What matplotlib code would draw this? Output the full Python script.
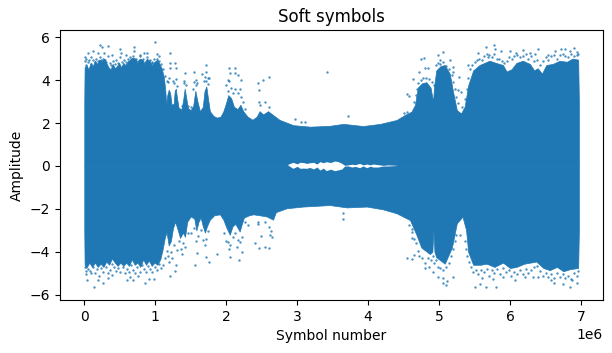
#!/bin/python3

import matplotlib
matplotlib.use('Agg')
import matplotlib.pyplot as plt
import numpy as np

# outline of the solid mass of symbols (x in millions)
upper_x = [0.0, 0.005, 0.03, 0.06, 0.09, 0.12, 0.15, 0.18, 0.21, 0.25, 0.28, 0.31, 0.34, 0.37, 0.40, 0.43, 0.46, 0.49,
           0.52, 0.55, 0.58, 0.61, 0.65, 0.68, 0.72, 0.75, 0.78, 0.82, 0.85, 0.88, 0.92, 0.95, 0.99, 1.03, 1.06, 1.09,
           1.12, 1.14, 1.155, 1.17, 1.19, 1.21, 1.23, 1.26, 1.275, 1.29, 1.305, 1.33, 1.37, 1.395, 1.415, 1.435, 1.46,
           1.5, 1.535, 1.565, 1.595, 1.63, 1.67, 1.695, 1.72, 1.745, 1.77, 1.82, 1.87, 1.92, 1.96, 1.99, 2.03, 2.07,
           2.11, 2.16, 2.2, 2.24, 2.3, 2.37, 2.43, 2.47, 2.52, 2.59, 2.65, 2.75, 2.944, 3.18, 3.46, 3.65, 3.93, 4.17,
           4.40, 4.52, 4.61, 4.66, 4.70, 4.76, 4.82, 4.88, 4.915, 4.93, 4.96, 5.02, 5.08, 5.15, 5.2, 5.25, 5.31, 5.36,
           5.41, 5.48, 5.57, 5.64, 5.71, 5.8, 5.9, 5.95, 6.02, 6.09, 6.18, 6.28, 6.34, 6.39, 6.45, 6.51, 6.6, 6.70,
           6.8, 6.88, 6.96, 6.97]
upper_y = [3.0, 4.6, 4.7, 4.5, 4.8, 4.65, 4.9, 4.75, 4.95, 4.9, 5.0, 4.8, 4.6, 4.5, 4.75, 4.55, 4.65, 4.8,
           4.6, 4.8, 4.7, 4.85, 4.95, 5.05, 5.0, 4.8, 5.0, 4.95, 4.75, 5.0, 4.9, 4.7, 4.85, 4.95, 4.75, 4.55,
           4.15, 3.6, 2.85, 3.3, 3.55, 3.4, 2.85, 2.9, 3.5, 3.6, 3.2, 2.7, 2.65, 3.1, 3.6, 3.2, 2.7,
           2.6, 2.8, 3.5, 3.0, 2.55, 2.75, 3.5, 3.7, 3.1, 2.55, 2.33, 2.25, 2.3, 2.55, 2.85, 3.3, 3.15,
           2.75, 2.65, 2.85, 2.55, 2.3, 2.15, 2.3, 2.55, 2.4, 2.55, 2.4, 2.15, 1.9, 1.83, 1.87, 1.96, 1.86, 1.96,
           2.14, 2.38, 2.53, 2.84, 3.65, 3.85, 3.9, 3.65, 3.0, 3.7, 4.45, 4.65, 4.7, 4.3, 3.4, 2.6, 2.45, 2.76,
           3.75, 4.45, 4.7, 4.8, 4.9, 4.8, 4.7, 4.4, 4.5, 4.8, 4.9, 4.75, 4.45, 4.55, 4.3, 4.7, 4.75, 4.9,
           4.85, 5.0, 4.95, 3.0]

lower_x = [0.0, 0.005, 0.03, 0.07, 0.11, 0.15, 0.19, 0.23, 0.27, 0.31, 0.35, 0.39, 0.43, 0.47, 0.51, 0.55, 0.59, 0.63,
           0.67, 0.71, 0.75, 0.79, 0.83, 0.87, 0.91, 0.95, 0.99, 1.03, 1.07, 1.1, 1.137, 1.16, 1.19, 1.22, 1.25, 1.28,
           1.31, 1.35, 1.39, 1.42, 1.45, 1.5, 1.55, 1.58, 1.61, 1.64, 1.67, 1.7, 1.73, 1.77, 1.83, 1.91, 1.96, 2.0,
           2.05, 2.09, 2.13, 2.19, 2.22, 2.25, 2.32, 2.38, 2.48, 2.57, 2.66, 2.7, 2.85, 3.08, 3.46, 3.70, 3.98, 4.21,
           4.40, 4.59, 4.68, 4.75, 4.87, 4.905, 4.92, 4.935, 4.96, 5.08, 5.18, 5.25, 5.33, 5.38, 5.41, 5.48, 5.58, 5.67,
           5.78, 5.9, 6.0, 6.09, 6.2, 6.37, 6.47, 6.56, 6.66, 6.75, 6.85, 6.96, 6.97]
lower_y = [-3.0, -4.6, -4.75, -4.5, -4.7, -4.5, -4.7, -4.55, -4.7, -4.45, -4.6, -4.3, -4.5, -4.65, -4.5, -4.65, -4.5, -4.65,
           -4.35, -4.6, -4.5, -4.7, -4.35, -4.6, -4.4, -4.65, -4.5, -4.6, -4.35, -3.95, -3.3, -3.1, -3.7, -3.5, -2.9, -2.6,
           -2.9, -3.35, -3.1, -3.3, -2.6, -2.35, -2.45, -3.0, -2.6, -2.4, -2.8, -3.1, -2.8, -2.5, -2.3, -2.25, -2.5, -2.85,
           -3.2, -2.8, -2.7, -3.05, -2.7, -2.4, -2.3, -2.25, -2.3, -2.35, -2.5, -2.15, -1.97, -1.89, -1.82, -1.93, -1.89, -2.02,
           -2.2, -2.52, -3.2, -3.8, -4.1, -4.0, -3.0, -4.0, -4.25, -4.55, -3.8, -2.67, -2.36, -2.98, -4.0, -4.6, -4.6, -4.55,
           -4.7, -4.5, -4.75, -4.7, -4.55, -4.45, -4.75, -4.85, -4.7, -4.9, -4.8, -4.75, -3.0]

# empty patch around zero in the middle of the plot
hole_x = [2.87, 2.94, 3.0, 3.04, 3.09, 3.13, 3.18, 3.23, 3.28, 3.32, 3.37, 3.41, 3.47, 3.53, 3.58, 3.63, 3.67, 3.72,
          3.77, 3.82, 3.88, 3.93, 3.98, 4.03, 4.07, 4.14, 4.21, 4.28, 4.4]
hole_top = [0.08, 0.17, 0.1, 0.17, 0.16, 0.12, 0.15, 0.17, 0.09, 0.2, 0.15, 0.2, 0.16, 0.23, 0.2, 0.12, 0.03, 0.05,
            0.08, 0.06, 0.12, 0.05, 0.09, 0.05, 0.09, 0.06, 0.03, 0.05, 0.03]
hole_bottom = [0.04, -0.11, -0.02, -0.11, -0.1, -0.11, -0.07, -0.14, -0.05, -0.19, -0.1, -0.22, -0.15, -0.22, -0.18, -0.14, 0.0, 0.0,
               -0.05, -0.02, -0.08, 0.0, -0.08, -0.01, -0.05, -0.05, 0.0, 0.0, 0.02]

# stray symbols far from the solid mass
stray_x = [.221, .245, .338, .118, .057, .01, .198, .277, .385, .503, .512, .587, .644, .705, .705, .785, .841, .878,
           1.0, 1.029, 1.057, .949, 1.207, 1.212, 1.282, 1.207, 1.291, 1.418, 1.55, 1.569, 1.714, 1.714, 1.662, 1.761,
           2.043, 2.123, 2.052, 2.123, 2.029, 2.17, 2.203, 2.451, 2.522, 2.606, 2.465, 2.465, 2.55, 3.423, 2.968, 3.048, 3.109,
           3.72, 4.55, 4.58, 4.63, 4.72, 4.80, 4.75, 4.79, 4.85, 4.99, 5.06, 5.01, 5.15, 5.2, 5.2, 5.28, 5.27, 5.31, 5.41,
           5.55, 5.66, 5.78, 5.79, 5.87, 5.69, 6.0, 6.08, 6.18, 6.28, 6.39, 6.35, 6.54, 6.63, 6.72, 6.78, 6.84, 6.9, 6.94,
           .141, .268, .043, .198, .339, .385, .597, .691, .644, .761, .855, .916, .986, 1.207, 1.282, 1.291, 1.371, 1.564,
           1.583, 1.714, 1.761, 1.874, 2.052, 2.038, 2.184, 2.146, 2.217, 2.409, 2.465, 2.55, 2.606, 2.493, 2.615, 2.31, 2.451, 2.545,
           3.64, 3.64, 4.55, 4.62, 4.64, 4.62, 4.62, 4.8, 4.86, 4.92, 4.99, 5.06, 5.11, 5.1, 5.2, 5.05,
           5.51, 5.66, 5.8, 5.57, 5.6, 5.76, 5.9, 6.07, 6.21, 6.33, 6.39, 6.58, 6.62, 6.75, 6.84, 6.94, 6.88]
stray_y = [5.64, 5.56, 5.59, 5.37, 5.25, 5.06, 5.25, 5.25, 5.17, 5.45, 5.25, 5.17, 5.06, 5.53, 5.33, 5.17, 5.28, 5.28,
           5.76, 5.2, 5.12, 4.86, 5.25, 4.81, 4.78, 4.55, 4.55, 4.32, 4.39, 4.01, 4.7, 4.39, 4.27, 4.08,
           4.55, 4.55, 4.32, 4.32, 4.01, 4.24, 4.01, 3.85, 3.98, 4.16, 3.54, 3.0, 3.0, 4.36, 2.17, 2.03, 2.03,
           2.33, 3.35, 3.28, 4.04, 4.39, 4.55, 4.98, 5.01, 4.58, 5.17, 5.29, 4.94, 4.94, 4.63, 4.39, 4.16, 3.54, 3.46, 4.7,
           5.25, 5.53, 5.64, 5.43, 5.37, 5.09, 5.33, 5.28, 5.4, 5.25, 5.43, 5.22, 5.17, 5.37, 5.43, 5.43, 5.33, 5.48, 5.17,
           -5.65, -5.47, -5.31, -5.31, -5.23, -5.08, -5.31, -5.31, -5.19, -5.12, -5.47, -5.28, -5.28, -5.11, -4.88, -4.61, -4.11, -4.63,
           -4.04, -4.22, -4.49, -4.11, -4.22, -3.88, -4.38, -3.79, -3.99, -3.6, -3.84, -3.76, -3.84, -3.26, -3.2, -2.75, -2.59, -2.59,
           -2.2, -2.48, -4.3, -4.35, -4.15, -3.37, -3.06, -4.77, -4.72, -4.95, -5.16, -5.23, -5.34, -5.56, -5.19, -5.43,
           -5.65, -5.65, -5.65, -5.5, -5.23, -5.28, -5.16, -5.31, -5.19, -5.16, -5.19, -5.31, -5.43, -5.5, -5.65, -5.47, -5.31]

# symbols in the speckled fringe just outside the solid mass
fringe_top_x = [.01, .02, .03, .05, .07, .09, .10, .13, .15, .17, .19, .22, .24, .26, .29, .31, .33, .36, .38, .41, .43, .45,
                .47, .50, .53, .56, .59, .61, .63, .66, .69, .73, .76, .79, .83, .86, .89, .92, .95, .98, 1.02, 1.05, 1.08,
                1.11, 1.14, 1.16, 1.18, 1.2, 1.25, 1.27, 1.29, 1.31, 1.41, 1.43, 1.40, 1.55, 1.57, 1.59, 1.53, 1.69, 1.72,
                1.74, 1.70, 1.75, 2.0, 2.04, 2.07, 2.02, 2.1, 2.13, 2.16, 2.19, 2.21, 2.23, 2.27, 2.47, 2.6, 1.5, 1.46, 1.38,
                4.5, 4.55, 4.64, 4.67, 4.69, 4.7, 4.74, 4.78, 4.82, 4.86, 4.9, 4.93, 4.95, 4.98, 5.02, 5.06, 5.1, 5.14, 5.18,
                5.2, 5.22, 5.24, 5.26, 5.33, 5.36, 5.39, 5.41, 5.44, 5.47, 5.5, 5.53, 5.56, 5.6, 5.63, 5.67, 5.71, 5.74, 5.78,
                5.82, 5.85, 5.88, 5.92, 5.96, 5.99, 6.03, 6.06, 6.1, 6.14, 6.18, 6.22, 6.26, 6.3, 6.34, 6.38, 6.42, 6.46, 6.5,
                6.54, 6.58, 6.62, 6.66, 6.7, 6.74, 6.78, 6.82, 6.86, 6.9, 6.94, 6.96]
fringe_top_y = [4.9, 4.7, 5.0, 4.85, 4.95, 4.75, 5.05, 4.95, 4.85, 5.0, 4.9, 5.05, 4.95, 5.0, 4.95, 4.85, 5.1, 4.8, 4.7, 4.9, 4.75, 4.95,
                4.8, 5.05, 4.85, 4.95, 4.85, 5.0, 4.9, 5.0, 5.1, 5.0, 4.9, 5.1, 5.0, 4.85, 5.05, 4.95, 4.8, 5.0, 5.0, 4.9, 4.75,
                4.5, 4.2, 3.95, 3.9, 4.1, 3.95, 3.85, 4.05, 3.7, 3.95, 3.75, 3.85, 3.9, 3.75, 3.85, 3.6, 3.95, 3.95,
                3.8, 4.15, 4.1, 3.75, 3.95, 3.65, 3.5, 3.4, 3.6, 3.4, 3.6, 3.2, 3.0, 2.65, 2.85, 2.75, 2.75, 2.8, 2.8,
                2.45, 2.5, 3.0, 3.3, 3.6, 3.85, 4.0, 4.1, 4.1, 4.05, 3.9, 3.75, 4.7, 4.8, 4.75, 4.85, 4.65, 4.5, 4.25,
                3.9, 3.6, 3.2, 2.95, 2.75, 3.1, 3.6, 4.1, 4.5, 4.7, 4.85, 4.95, 5.0, 4.95, 5.1, 5.2, 5.15, 5.05, 5.2,
                5.0, 5.0, 4.9, 4.8, 4.9, 5.05, 5.0, 5.1, 5.15, 5.05, 5.1, 5.2, 5.0, 5.1, 4.9, 4.95, 4.7, 4.9, 5.05,
                4.95, 5.1, 5.15, 5.0, 5.15, 5.2, 5.1, 5.05, 5.2, 5.1, 5.3, 5.2]

fringe_bottom_x = [.01, .02, .03, .05, .08, .1, .12, .15, .18, .21, .24, .27, .3, .33, .36, .39, .42, .45, .48, .51, .54, .57,
                   .6, .63, .66, .69, .72, .75, .78, .81, .84, .87, .9, .93, .96, .99, 1.02, 1.05, 1.08, 1.11, 1.14, 1.16,
                   1.18, 1.2, 1.22, 1.24, 1.27, 1.3, 1.33, 1.36, 1.39, 1.42, 1.46, 1.5, 1.54, 1.57, 1.6, 1.64, 1.67, 1.7,
                   1.72, 1.75, 1.97, 2.0, 2.03, 2.06, 2.09, 2.13, 2.16, 2.19, 2.22, 2.26, 2.45, 2.6, 2.63, 2.64,
                   4.58, 4.62, 4.65, 4.68, 4.7, 4.72, 4.76, 4.8, 4.84, 4.88, 4.91, 4.93, 4.96, 4.98, 5.02, 5.06, 5.1, 5.14,
                   5.17, 5.2, 5.22, 5.24, 5.3, 5.36, 5.38, 5.4, 5.42, 5.45, 5.48, 5.52, 5.55, 5.59, 5.63, 5.67, 5.7, 5.74,
                   5.78, 5.82, 5.86, 5.9, 5.94, 5.98, 6.02, 6.06, 6.1, 6.14, 6.18, 6.22, 6.26, 6.3, 6.34, 6.38, 6.42, 6.46,
                   6.5, 6.54, 6.58, 6.62, 6.66, 6.7, 6.74, 6.78, 6.82, 6.86, 6.9, 6.94, 6.96]
fringe_bottom_y = [-4.7, -4.9, -5.05, -4.8, -4.9, -5.0, -4.7, -5.0, -4.8, -5.1, -4.75, -4.95, -4.7, -5.0, -4.85, -4.55, -4.7, -4.9, -4.75, -4.95, -4.7, -5.0,
                   -4.8, -4.95, -4.6, -4.85, -5.0, -4.7, -4.95, -4.6, -4.8, -4.95, -4.65, -4.8, -4.95, -4.7, -4.85, -4.55, -4.75, -4.6, -4.3, -3.95,
                   -4.2, -4.45, -4.0, -4.3, -3.7, -3.9, -3.5, -3.85, -3.6, -3.75, -3.1, -3.1, -2.9, -3.5, -3.25, -3.0, -3.45, -3.7,
                   -3.4, -3.05, -3.1, -3.5, -3.55, -3.7, -3.3, -3.1, -3.45, -3.55, -3.3, -2.6, -2.7, -2.85, -3.05, -3.3,
                   -2.75, -2.95, -3.4, -3.6, -3.95, -4.2, -4.3, -4.5, -4.3, -4.4, -4.2, -4.5, -4.4, -4.7, -4.75, -4.85, -4.7, -4.5,
                   -4.2, -3.85, -3.5, -3.2, -3.2, -3.5, -3.85, -4.2, -4.45, -4.7, -4.95, -4.85, -5.05, -4.85, -4.95, -4.8, -5.1, -4.85,
                   -5.0, -4.8, -5.05, -4.75, -4.95, -4.85, -5.1, -4.95, -5.05, -4.85, -5.05, -4.8, -5.0, -4.85, -4.7, -4.65, -4.9, -5.1,
                   -5.0, -5.15, -5.05, -5.2, -5.0, -5.15, -5.05, -5.2, -5.1, -5.25, -5.0, -5.1, -4.9]

fig = plt.figure(figsize=(6.12, 3.53), dpi=100)
ax = fig.add_axes([60 / 612, 1 - 300 / 353, 543 / 612, 270 / 353])

blue = 'tab:blue'
ax.fill_between(np.array(upper_x) * 1e6, 0, upper_y, color=blue, lw=0.5)
ax.fill_between(np.array(lower_x) * 1e6, lower_y, 0, color=blue, lw=0.5)
ax.fill_between(np.array(hole_x) * 1e6, hole_bottom, hole_top, color='white', lw=0)
ax.scatter(np.array(fringe_top_x) * 1e6, fringe_top_y, s=3, color=blue, alpha=0.8, lw=0)
ax.scatter(np.array(fringe_bottom_x) * 1e6, fringe_bottom_y, s=3, color=blue, alpha=0.8, lw=0)
ax.scatter(np.array(stray_x) * 1e6, stray_y, s=3, color=blue, alpha=0.8, lw=0)

ax.set_xlim(-0.342e6, 7.31e6)
ax.set_ylim(-6.24, 6.33)
ax.set_title('Soft symbols')
ax.set_xlabel('Symbol number')
ax.set_ylabel('Amplitude')

fig.savefig('out.png', dpi=100)
